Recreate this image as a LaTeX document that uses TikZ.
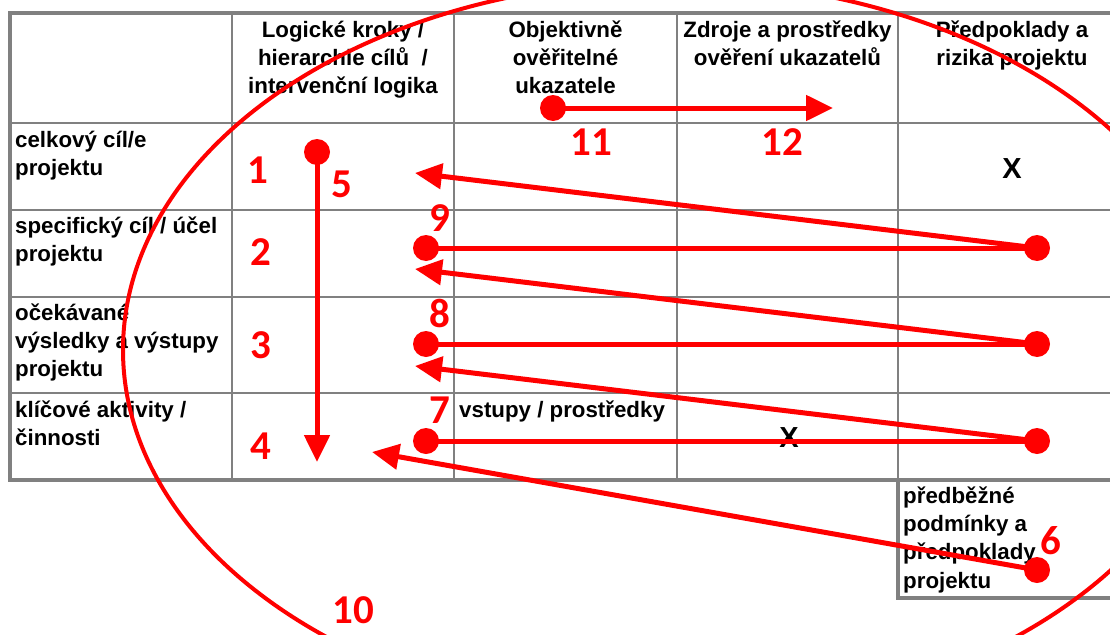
\documentclass[tikz,border=0pt]{standalone}
\usepackage{fontspec}
\setmainfont{Liberation Sans}
\newfontfamily\numfont{Carlito}
\usetikzlibrary{arrows.meta}
\definecolor{tgray}{RGB}{128,128,128}
\definecolor{tred}{RGB}{255,0,0}
\tikzset{
  cellt/.style={inner sep=0pt, font=\bfseries\fontsize{22.3}{28.3}\selectfont, align=left, anchor=north west},
  headt/.style={inner sep=0pt, font=\bfseries\fontsize{22.3}{28.3}\selectfont, align=center, anchor=north},
  xmark/.style={inner sep=0pt, font=\bfseries\fontsize{29}{30}\selectfont},
  numlab/.style={inner sep=0pt, text=tred, font=\numfont\bfseries\fontsize{41}{41}\selectfont},
  dotn/.style={circle, fill=tred, minimum size=26pt, inner sep=0pt},
  redline/.style={draw=tred, line width=5pt},
  redarrow/.style={redline, -{Triangle[length=27pt,width=25pt]}},
  outerl/.style={draw=tgray, line width=3.5pt},
  innerl/.style={draw=tgray, line width=2pt},
  ring/.style={draw=tred, line width=4pt},
}
\begin{document}
\begin{tikzpicture}[x=1pt, y=-1pt]
\clip (0,0) rectangle (1110,634);
\fill[white] (0,0) rectangle (1110,634);
% table grid
\foreach \yy in {123,210,297,393} \draw[innerl] (10,\yy) -- (1130,\yy);
\foreach \xx in {232,454,677,898} \draw[innerl] (\xx,13) -- (\xx,480);
\draw[outerl] (10,13) rectangle (1130,480);
\draw[outerl] (898,480) rectangle (1130,598);
% header texts
\node[headt] (h2) at (343,17.2) {\strut Logické kroky /\\hierarchie cílů \ /\\intervenční logika};
\node[headt] (h3) at (565.5,17.2) {\strut Objektivně\\ověřitelné\\ukazatele};
\node[headt] (h4) at (787.5,17.2) {\strut Zdroje a prostředky\\ověření ukazatelů};
\node[headt] (h5) at (1012,17.2) {\strut Předpoklady a\\rizika projektu};
% row texts
\node[cellt] (c1) at (15,127.2) {\strut celkový cíl/e\\projektu};
\node[cellt] (c2) at (15,213.2) {\strut specifický cíl / účel\\projektu};
\node[cellt] (c3) at (15,300.2) {\strut očekávané\\výsledky a výstupy\\projektu};
\node[cellt] (c4) at (15,397.2) {\strut klíčové aktivity /\\činnosti};
\node[cellt] (vs) at (459,397.2) {\strut vstupy / prostředky};
\node[cellt] (pp) at (903,483.2) {\strut předběžné\\podmínky a\\předpoklady\\projektu};
\node[xmark] (x1) at (1012,169) {X};
\node[xmark] (x2) at (789,438) {X};
% big ellipse
\draw[ring] (671,350) ellipse [x radius=548pt, y radius=369pt];
% dots
\node[dotn] (d5) at (317,152) {};
\node[dotn] (d11) at (553,108) {};
\node[dotn] (l2) at (426,248) {};
\node[dotn] (l3) at (426,344) {};
\node[dotn] (l4) at (426,441) {};
\node[dotn] (r2) at (1037,248) {};
\node[dotn] (r3) at (1037,344) {};
\node[dotn] (r4) at (1037,441) {};
\node[dotn] (r6) at (1037,570) {};
% arrow tip points
\coordinate (t5) at (317,462);
\coordinate (t12) at (833,108);
\coordinate (t1) at (415,173);
\coordinate (t2) at (415,269);
\coordinate (t3) at (415,366);
\coordinate (t4) at (372,452);
% connectors
\draw[redarrow] (d5.center) -- (t5);
\draw[redarrow] (d11.center) -- (t12);
\draw[redline] (r2.center) -- (l2.center);
\draw[redline] (r3.center) -- (l3.center);
\draw[redline] (r4.center) -- (l4.center);
\draw[redarrow] (r2.center) -- (t1);
\draw[redarrow] (r3.center) -- (t2);
\draw[redarrow] (r4.center) -- (t3);
\draw[redarrow] (r6.center) -- (t4);
% number labels
\node[numlab] (n1) at (258,170) {1};
\node[numlab] (n2) at (261,252) {2};
\node[numlab] (n3) at (261,345) {3};
\node[numlab] (n4) at (261,446) {4};
\node[numlab] (n5) at (342,184) {5};
\node[numlab] (n6) at (1051,541) {6};
\node[numlab] (n7) at (440,410) {7};
\node[numlab] (n8) at (440,313) {8};
\node[numlab] (n9) at (440,218) {9};
\node[numlab] (n10) at (353,610) {10};
\node[numlab] (n11) at (591,142) {11};
\node[numlab] (n12) at (782,142) {12};
\end{tikzpicture}
\end{document}
